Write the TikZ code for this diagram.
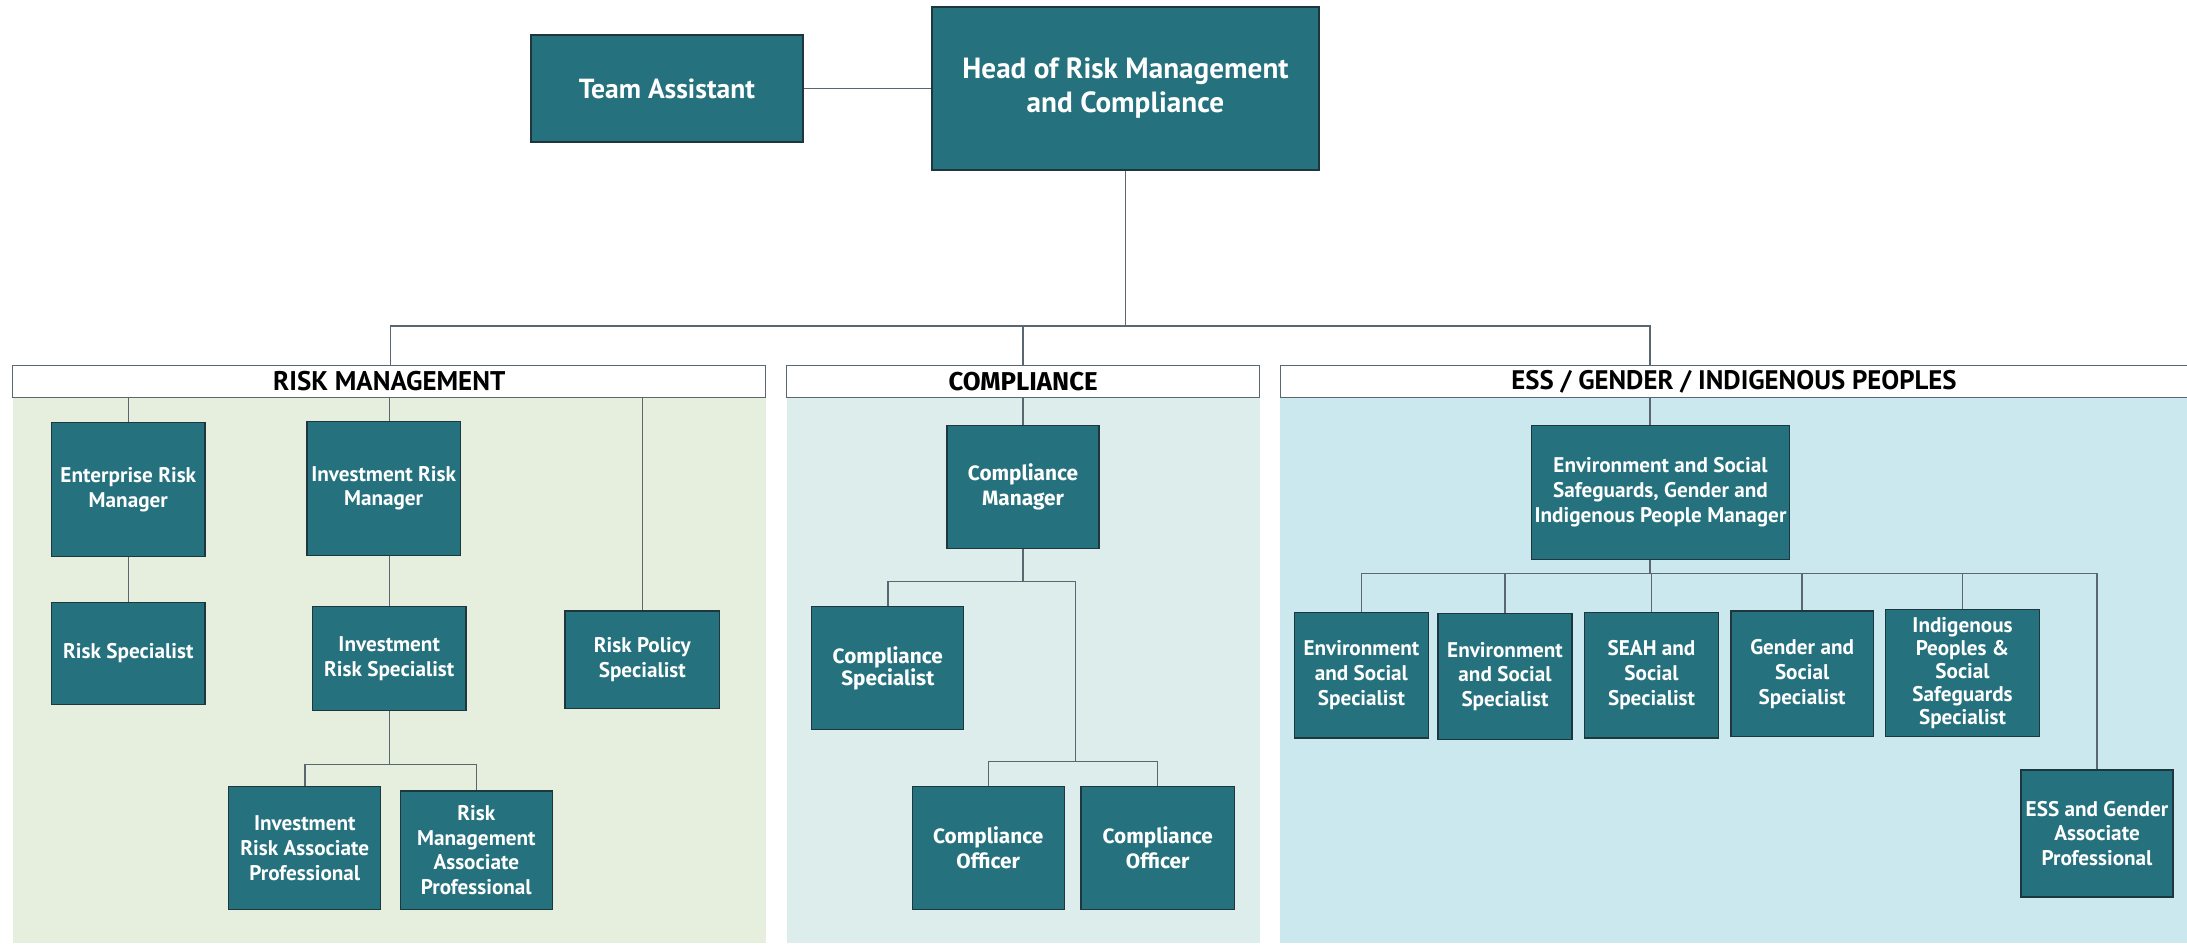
\documentclass[tikz,border=0pt]{standalone}
\usepackage{fontspec}
\setmainfont{PT Sans}
\newfontfamily\fira{Fira Sans}
\definecolor{tealbox}{RGB}{37,114,126}
\definecolor{boxline}{RGB}{30,55,62}
\definecolor{conncol}{RGB}{90,102,112}
\definecolor{rmbg}{RGB}{230,239,222}
\definecolor{cpbg}{RGB}{220,237,236}
\definecolor{essbg}{RGB}{204,232,239}
\tikzset{
  box/.style={draw=boxline, line width=0.6pt, fill=tealbox, text=white, align=center, inner sep=0pt,
    font=\bfseries\fontsize{10.6}{12.4}\selectfont},
  fbox/.style={box, font=\fira\bfseries\fontsize{10.4}{12.4}\selectfont},
  hdr/.style={draw=conncol, line width=0.6pt, fill=white, text=black, inner sep=0pt, minimum height=16pt,
    font=\bfseries\fontsize{13.5}{15}\selectfont},
  conn/.style={draw=conncol, line width=0.7pt},
}
\begin{document}
\begin{tikzpicture}[x=0.5pt,y=-0.5pt]
\useasboundingbox (0,0) rectangle (2187,945);
% panels
\fill[rmbg] (12.6,397.5) rectangle (765.7,943);
\fill[cpbg] (786.7,397.5) rectangle (1259.5,943);
\fill[essbg] (1280.4,397.5) rectangle (2190,943);
% top
\node[box, minimum width=136pt, minimum height=53.5pt, font=\bfseries\fontsize{13.8}{16}\selectfont] (ta) at (667,88.5) {Team Assistant};
\node[box, minimum width=193.5pt, minimum height=81.5pt, font=\bfseries\fontsize{14.6}{17}\selectfont] (head) at (1125.5,88.5) {Head of Risk Management\\and Compliance};
% headers
\node[hdr, minimum width=376.5pt] (rmh) at (389.2,381.5) {RISK MANAGEMENT};
\node[hdr, minimum width=236.4pt, font=\fira\bfseries\fontsize{12.9}{15}\selectfont] (cph) at (1023.1,381.5) {COMPLIANCE};
\node[hdr, minimum width=458pt] (essh) at (1738.4,381.5) {};
\node[font=\bfseries\fontsize{13.4}{15}\selectfont, inner sep=0pt] (esst) at (1734,381.5) {ESS / GENDER / INDIGENOUS PEOPLES};
% risk management
\node[box, minimum width=76.7pt, minimum height=67pt] (erm) at (128.3,489.5) {Enterprise Risk\\Manager};
\node[box, minimum width=76.7pt, minimum height=50.9pt] (rs) at (128.3,653.5) {Risk Specialist};
\node[box, minimum width=76.7pt, minimum height=67pt] (irm) at (383.6,488.2) {Investment Risk\\Manager};
\node[box, minimum width=76.7pt, minimum height=51.7pt] (irs) at (389.2,658.4) {Investment\\Risk Specialist};
\node[box, minimum width=77.4pt, minimum height=48.8pt] (rps) at (642.3,659.8) {Risk Policy\\Specialist};
\node[box, minimum width=76pt, minimum height=61.4pt] (irap) at (304.8,848) {Investment\\Risk Associate\\Professional};
\node[box, minimum width=76pt, minimum height=59.3pt] (rmap) at (476.3,850.2) {Risk\\Management\\Associate\\Professional};
% compliance
\node[fbox, minimum width=76pt, minimum height=61.4pt] (cm) at (1023,486.8) {Compliance\\Manager};
\node[fbox, minimum width=76pt, minimum height=61.4pt, font=\fira\bfseries\fontsize{10.4}{10.8}\selectfont] (cs) at (887.8,668.1) {Compliance\\Specialist};
\node[fbox, minimum width=76pt, minimum height=61.4pt] (co1) at (988.2,848) {Compliance\\Officer};
\node[fbox, minimum width=76.7pt, minimum height=61.4pt] (co2) at (1157.7,848) {Compliance\\Officer};
% ess
\node[box, minimum width=129pt, minimum height=67pt] (em) at (1660.5,492.4) {Environment and Social\\Safeguards, Gender and\\Indigenous People Manager};
\node[box, minimum width=67pt, minimum height=62.8pt] (es1) at (1361.4,675.1) {Environment\\and Social\\Specialist};
\node[box, minimum width=67pt, minimum height=62.8pt] (es2) at (1505,676.5) {Environment\\and Social\\Specialist};
\node[box, minimum width=67pt, minimum height=62.8pt] (seah) at (1651.5,675.1) {SEAH and\\Social\\Specialist};
\node[box, minimum width=71.1pt, minimum height=62.8pt] (gen) at (1802.1,673.8) {Gender and\\Social\\Specialist};
\node[box, minimum width=76.7pt, minimum height=63.5pt, font=\bfseries\fontsize{10.6}{11.4}\selectfont] (ind) at (1962.5,673) {Indigenous\\Peoples \&\\Social\\Safeguards\\Specialist};
\node[box, minimum width=76pt, minimum height=63.5pt] (gap) at (2097,833.5) {ESS and Gender\\Associate\\Professional};
% coordinates
\coordinate (b1) at (390.5,326);
\coordinate (b3) at (1650,326);
\coordinate (rb) at (390,764.4);
\coordinate (cb) at (1023,581.6);
\coordinate (cj) at (1075.4,581.6);
\coordinate (cj2) at (1075.4,761.6);
\coordinate (eb) at (1650,573.3);
% connectors top
\draw[conn] (ta.east) -- (head.west);
\draw[conn] (head.south) -- (head.south |- b1);
\draw[conn] (b1 |- rmh.north) -- (b1) -- (b3) -- (b3 |- essh.north);
\draw[conn] (cph.north) -- (cph.north |- b1);
% risk management connectors
\draw[conn] (rmh.south -| erm.north) -- (erm.north);
\draw[conn] (erm.south) -- (rs.north);
\draw[conn] (rmh.south -| irs.north) -- (irm.north -| irs.north);
\draw[conn] (irm.south -| irs.north) -- (irs.north);
\draw[conn] (rmh.south -| rps.north) -- (rps.north);
\draw[conn] (irs.south) -- (irs.south |- rb);
\draw[conn] (irap.north) |- (rmap.north |- rb) -- (rmap.north);
% compliance connectors
\draw[conn] (cph.south -| cm.north) -- (cm.north);
\draw[conn] (cm.south) -- (cm.south |- cb);
\draw[conn] (cs.north) |- (cj) -- (cj2);
\draw[conn] (co1.north) |- (co2.north |- cj2) -- (co2.north);
% ess connectors
\draw[conn] (b3 |- essh.south) -- (b3 |- em.north);
\draw[conn] (b3 |- em.south) -- (eb);
\draw[conn] (es1.north) |- (gap.north |- eb) -- (gap.north);
\draw[conn] (es2.north) -- (es2.north |- eb);
\draw[conn] (seah.north) -- (seah.north |- eb);
\draw[conn] (gen.north) -- (gen.north |- eb);
\draw[conn] (ind.north) -- (ind.north |- eb);
\end{tikzpicture}
\end{document}
